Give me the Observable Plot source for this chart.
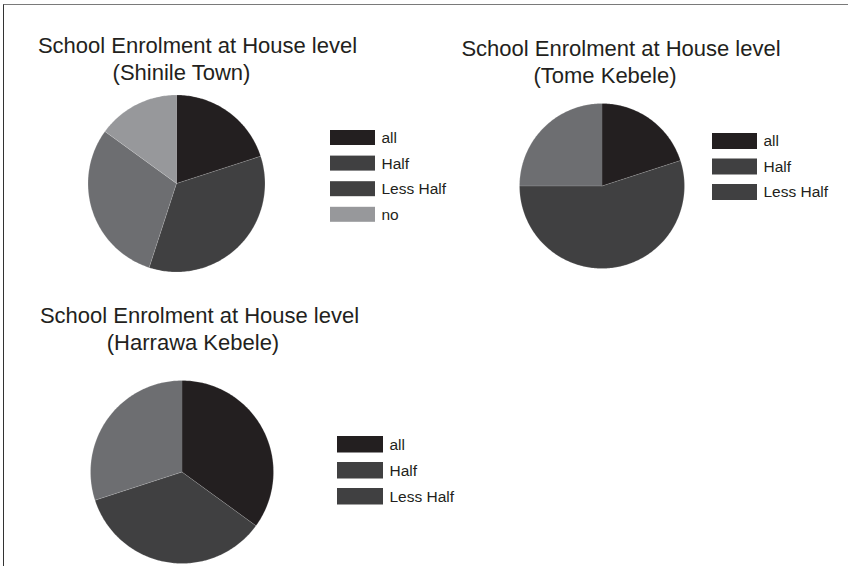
<!DOCTYPE html>
<html>
<head>
<meta charset="utf-8">
<script src="https://cdn.jsdelivr.net/npm/d3@7"></script>
<script src="https://cdn.jsdelivr.net/npm/@observablehq/plot@0.6"></script>
<style>
  html, body { margin: 0; padding: 0; background: #fff; }
  #wrap { position: relative; width: 848px; height: 566px; overflow: hidden; }
  #wrap svg { display: block; }
  #frame { position: absolute; left: 3px; top: 4px; right: -4px; bottom: -4px;
           border-top: 1.5px solid #7a7a7a; border-left: 1.5px solid #333; pointer-events: none; }
</style>
</head>
<body>
<div id="wrap"><div id="frame"></div></div>
<script>
// ---- data ----
const categories = ["all", "Half", "Less Half", "no"];
const places = ["Shinile Town", "Tome Kebele", "Harrawa Kebele"];
const titleText = "School Enrolment at House level";
const shinileValues = [20, 35, 30, 15];
const tomeValues = [20, 55, 25];
const harrawaValues = [35, 35, 30];
const sliceColors = ["#231f20", "#404041", "#6d6e71", "#97989b"];
const legendColors = ["#231f20", "#404041", "#404041", "#97989b"];

// ---- layout ----
const layout = [
  {values: shinileValues, cx: 176, cy: 183, r: 88.5, tx: 197, t2x: 181, ty: 45, lx: 330, lw: 45, ly: 130, lh: 15, step: 25.6},
  {values: tomeValues,    cx: 601.5, cy: 185.5, r: 82.5, tx: 620.5, t2x: 604.5, ty: 48.5, lx: 712, lw: 45, ly: 133, lh: 16, step: 25.5},
  {values: harrawaValues, cx: 181.5, cy: 471.5, r: 91.5, tx: 199, t2x: 192.5, ty: 315.5, lx: 337, lw: 46, ly: 436, lh: 16.5, step: 26}
];
const lineGap = 27;

const wedgePts = [];
const legendRows = [];
const titleLines = [];
layout.forEach((p, pi) => {
  const total = d3.sum(p.values);
  let a0 = 0;
  p.values.forEach((v, i) => {
    const a1 = a0 + v / total * 2 * Math.PI;
    const key = pi + "-" + i;
    wedgePts.push({key, x: p.cx, y: p.cy, fill: sliceColors[i]});
    const n = Math.max(2, Math.ceil((a1 - a0) / (Math.PI / 180)));
    for (let k = 0; k <= n; k++) {
      const a = a0 + (a1 - a0) * k / n;
      wedgePts.push({key, x: p.cx + p.r * Math.sin(a), y: p.cy - p.r * Math.cos(a), fill: sliceColors[i]});
    }
    a0 = a1;
    legendRows.push({
      x1: p.lx, x2: p.lx + p.lw,
      y1: p.ly + i * p.step, y2: p.ly + i * p.step + p.lh,
      fill: legendColors[i], label: categories[i]
    });
  });
  titleLines.push({x: p.tx, y: p.ty, text: titleText});
  titleLines.push({x: p.t2x, y: p.ty + lineGap, text: "(" + places[pi] + ")"});
});

const chart = Plot.plot({
  width: 848,
  height: 566,
  margin: 0,
  style: {fontFamily: "'Liberation Sans', Arial, Helvetica, sans-serif", background: "transparent"},
  x: {domain: [0, 848], range: [0, 848], axis: null},
  y: {domain: [0, 566], range: [0, 566], axis: null},
  color: {type: "identity"},
  marks: [
    Plot.line(wedgePts, {x: "x", y: "y", z: "key", fill: "fill", stroke: "#ffffff", strokeWidth: 0.5, strokeOpacity: 0.35, curve: "linear"}),
    Plot.rect(legendRows, {x1: "x1", x2: "x2", y1: "y1", y2: "y2", fill: "fill"}),
    Plot.text(legendRows, {x: d => d.x2 + 6, y: d => (d.y1 + d.y2) / 2, text: "label", textAnchor: "start", fontSize: 15.5, fill: "#231f20"}),
    Plot.text(titleLines, {x: "x", y: "y", text: "text", textAnchor: "middle", fontSize: 22, fill: "#231f20"})
  ]
});
document.getElementById("wrap").insertBefore(chart, document.getElementById("frame"));
</script>
</body>
</html>
